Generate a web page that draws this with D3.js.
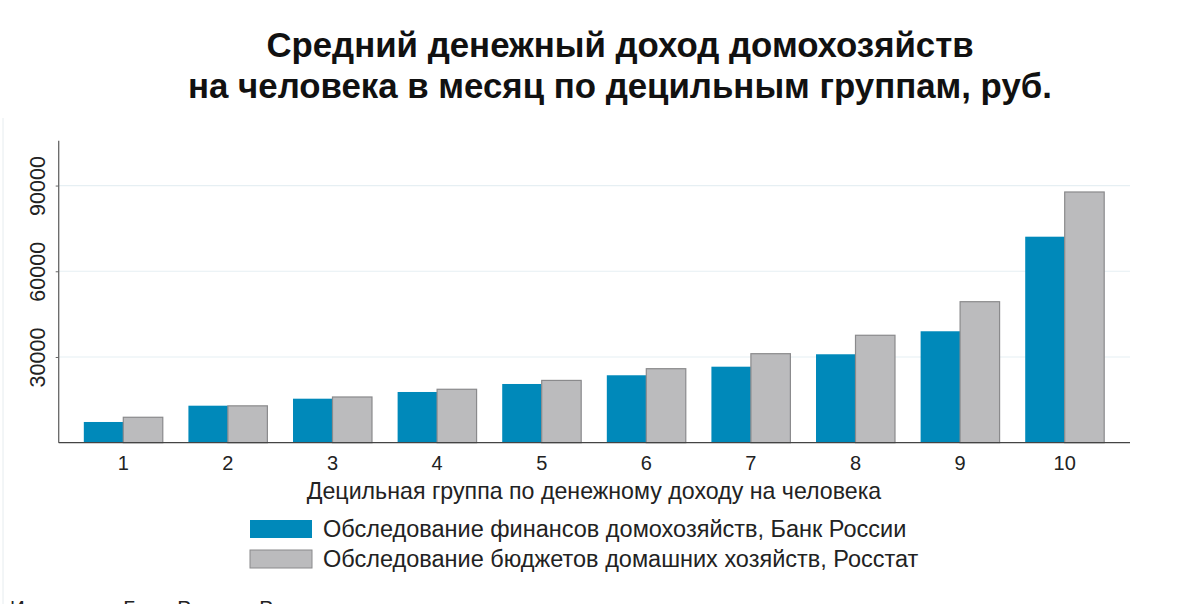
<!DOCTYPE html>
<html>
<head>
<meta charset="utf-8">
<script src="https://cdn.jsdelivr.net/npm/d3@7"></script>
<style>
  body { margin: 0; background: #fff; }
  svg { font-family: "Liberation Sans", Arial, sans-serif; }
</style>
</head>
<body>
<svg id="chart" width="1200" height="604"></svg>
<script>
const groups = ["1", "2", "3", "4", "5", "6", "7", "8", "9", "10"];
const bankValues = [7250, 12950, 15400, 17750, 20550, 23600, 26600, 30950, 39000, 72100];
const rosstatValues = [8900, 12900, 16000, 18700, 21800, 25900, 31150, 37600, 49350, 87750];
const yTicks = [30000, 60000, 90000];
const seriesNames = [
  "Обследование финансов домохозяйств, Банк России",
  "Обследование бюджетов домашних хозяйств, Росстат",
];
const seriesColors = ["#0089ba", "#bbbbbd"];

const svg = d3.select("#chart");

const plotLeft = 58.7, plotRight = 1130, plotTop = 140.7, plotBottom = 442.7;

const x = d3.scaleBand().domain(groups).range([71, 1117])
  .paddingInner(0.245).paddingOuter(0.1225);
const xSub = d3.scaleBand().domain([0, 1]).range([0, x.bandwidth()]);
const y = d3.scaleLinear().domain([0, 105700]).range([plotBottom, plotTop]);

// frame line on the left
svg.append("line")
  .attr("x1", 3).attr("x2", 3).attr("y1", 118).attr("y2", 604)
  .attr("stroke", "#e6ecef").attr("stroke-width", 1);

// title
const title = svg.append("text")
  .attr("text-anchor", "middle")
  .attr("font-weight", "bold")
  .attr("font-size", 34.8)
  .attr("fill", "#111");
title.append("tspan").attr("x", 620).attr("y", 57).text("Средний денежный доход домохозяйств");
title.append("tspan").attr("x", 620).attr("y", 97.5).text("на человека в месяц по децильным группам, руб.");

// gridlines
svg.append("g")
  .selectAll("line")
  .data(yTicks)
  .join("line")
  .attr("x1", plotLeft).attr("x2", plotRight)
  .attr("y1", (d) => y(d)).attr("y2", (d) => y(d))
  .attr("stroke", "#e6eff3").attr("stroke-width", 1.2);

// bars
const g = svg.append("g")
  .selectAll("g")
  .data(groups)
  .join("g")
  .attr("transform", (d) => "translate(" + x(d) + ",0)");

g.append("rect")
  .attr("x", xSub(0))
  .attr("width", xSub.bandwidth())
  .attr("y", (d, i) => y(bankValues[i]))
  .attr("height", (d, i) => plotBottom - y(bankValues[i]))
  .attr("fill", seriesColors[0]);

g.append("rect")
  .attr("x", xSub(1))
  .attr("width", xSub.bandwidth())
  .attr("y", (d, i) => y(rosstatValues[i]))
  .attr("height", (d, i) => plotBottom - y(rosstatValues[i]))
  .attr("fill", seriesColors[1])
  .attr("stroke", "#8a8a8c")
  .attr("stroke-width", 1.2);

// y axis
const yAxis = svg.append("g")
  .attr("transform", "translate(" + plotLeft + ",0)")
  .call(d3.axisLeft(y).tickValues(yTicks).tickSizeInner(3).tickSizeOuter(0).tickFormat(d3.format("d")));
yAxis.select(".domain").attr("stroke", "#666").attr("stroke-width", 1.3)
  .attr("d", "M0," + plotTop + "V" + plotBottom);
yAxis.selectAll(".tick line").attr("stroke", "#666");
yAxis.selectAll(".tick text")
  .attr("font-size", 21.5)
  .attr("fill", "#222")
  .attr("text-anchor", "middle")
  .attr("transform", "rotate(-90)")
  .attr("x", 0)
  .attr("y", -14)
  .attr("dy", "0");

// x axis
const xAxis = svg.append("g")
  .attr("transform", "translate(0," + plotBottom + ")")
  .call(d3.axisBottom(x).tickSize(0).tickPadding(13));
xAxis.select(".domain").attr("stroke", "#444").attr("stroke-width", 1.3)
  .attr("d", "M" + plotLeft + ",0H" + plotRight);
xAxis.selectAll(".tick text").attr("font-size", 20).attr("fill", "#222");

svg.append("text")
  .attr("x", 594).attr("y", 499)
  .attr("text-anchor", "middle")
  .attr("font-size", 23.2)
  .attr("fill", "#222")
  .text("Децильная группа по денежному доходу на человека");

// legend
const legend = svg.append("g")
  .selectAll("g")
  .data(seriesNames)
  .join("g")
  .attr("transform", (d, i) => "translate(250," + (520 + i * 30) + ")");
legend.append("rect")
  .attr("width", 62).attr("height", 18)
  .attr("fill", (d, i) => seriesColors[i])
  .attr("stroke", (d, i) => (i === 1 ? "#8a8a8c" : "none"))
  .attr("stroke-width", 1);
legend.append("text")
  .attr("x", 73).attr("y", 17)
  .attr("font-size", 23.5)
  .attr("fill", "#222")
  .text((d) => d);

// source line, cut by the bottom edge
svg.append("text")
  .attr("x", 10).attr("y", 615)
  .attr("font-size", 20.5)
  .attr("fill", "#222")
  .attr("word-spacing", 3)
  .text("Источники: Банк России, Росстат");
</script>
</body>
</html>
